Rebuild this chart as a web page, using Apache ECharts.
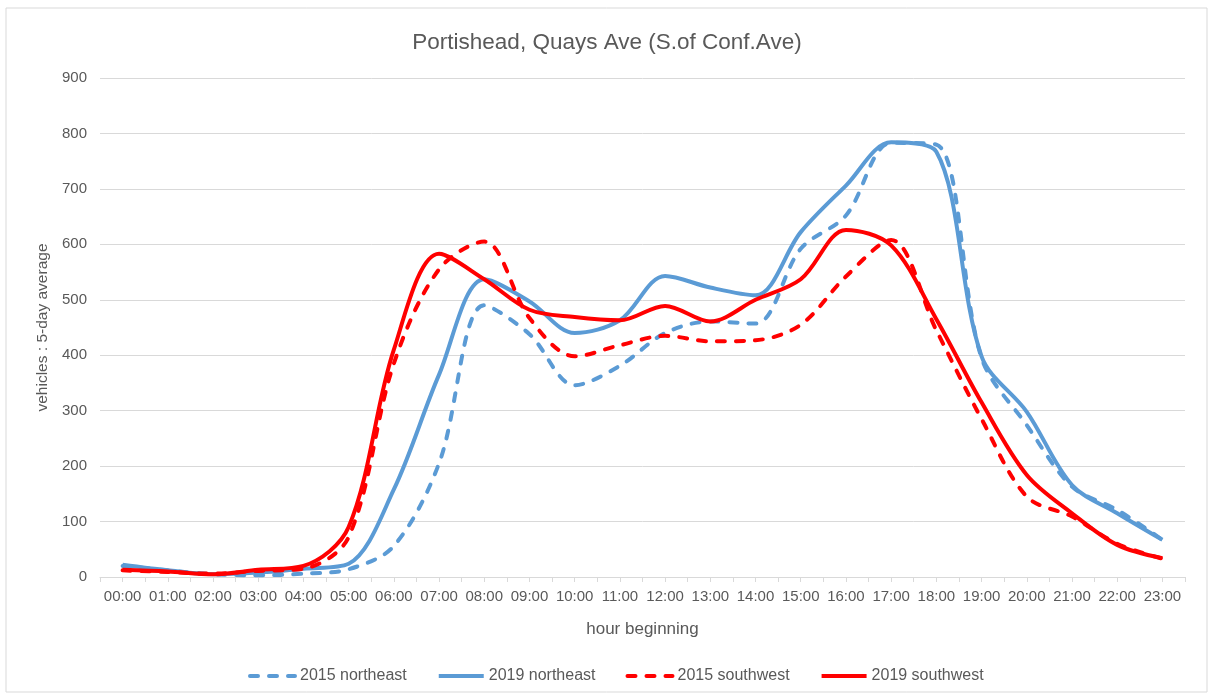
<!DOCTYPE html>
<html>
<head>
<meta charset="utf-8">
<title>Portishead, Quays Ave</title>
<script src="https://cdn.jsdelivr.net/npm/echarts@6/dist/echarts.min.js"></script>
<style>
  html, body { margin: 0; padding: 0; background: #fff; }
  #chart { width: 1214px; height: 698px; }
</style>
</head>
<body>
<div id="chart"></div>
<script>
// hourly categories
var hours = ['00:00', '01:00', '02:00', '03:00', '04:00', '05:00', '06:00', '07:00',
  '08:00', '09:00', '10:00', '11:00', '12:00', '13:00', '14:00', '15:00',
  '16:00', '17:00', '18:00', '19:00', '20:00', '21:00', '22:00', '23:00']

// 5-day average vehicle counts
var ne2015 = [20, 12, 5, 3, 6, 14, 56, 205, 490, 438, 346, 381,
  440, 461, 457, 592, 652, 783, 780, 395, 274, 163, 121, 67]
var ne2019 = [22, 12, 5, 8, 15, 24, 158, 365, 537, 497, 440, 463,
  543, 522, 508, 622, 706, 784, 767, 398, 298, 166, 115, 67]
var sw2015 = [12, 9, 6, 11, 15, 72, 385, 555, 605, 467, 398, 418,
  435, 425, 427, 455, 542, 608, 445, 285, 145, 109, 60, 33]
var sw2019 = [13, 10, 5, 13, 20, 90, 410, 583, 537, 482, 469, 463,
  489, 461, 500, 537, 626, 598, 465, 315, 184, 115, 58, 34]

var BLUE = '#5B9BD5'
var RED = '#FF0000'
var TEXT = '#595959'
var GRID = '#D9D9D9'
var FONT = '"Liberation Sans", Arial, sans-serif'

function makeLine(name, data, color, dashed) {
  return {
    name: name,
    type: 'line',
    data: data,
    smooth: 0.33,
    symbol: 'none',
    xAxisIndex: 0,
    lineStyle: {
      color: color,
      width: 4,
      type: dashed ? [8, 11] : 'solid',
      cap: dashed ? 'round' : 'butt'
    },
    itemStyle: { color: color }
  }
}

var chart = echarts.init(document.getElementById('chart'))

chart.setOption({
  animation: false,
  textStyle: { fontFamily: FONT },
  graphic: [{
    type: 'rect',
    shape: { x: 6, y: 8, width: 1201, height: 684 },
    style: { fill: 'none', stroke: GRID, lineWidth: 1 },
    silent: true,
    z: -1
  }],
  title: {
    text: 'Portishead, Quays Ave (S.of Conf.Ave)',
    left: 'center',
    top: 31,
    padding: 0,
    textStyle: { color: TEXT, fontSize: 22.5, fontWeight: 'normal', fontFamily: FONT }
  },
  legend: {
    left: 248,
    top: 668,
    padding: 0,
    itemWidth: 45,
    itemHeight: 12,
    itemGap: 30,
    itemStyle: { opacity: 0, borderWidth: 0 },
    lineStyle: { width: 4 },
    textStyle: { color: TEXT, fontSize: 16, fontFamily: FONT },
    data: ['2015 northeast', '2019 northeast', '2015 southwest', '2019 southwest']
  },
  grid: { left: 100, right: 29, top: 78, bottom: 121 },
  xAxis: [
    {
      type: 'category',
      data: hours,
      boundaryGap: true,
      name: 'hour beginning',
      nameLocation: 'middle',
      nameGap: 44,
      nameTextStyle: { color: TEXT, fontSize: 17, fontFamily: FONT },
      axisLine: { lineStyle: { color: GRID, width: 1 } },
      axisTick: { show: true, interval: 0, length: 5, lineStyle: { color: GRID } },
      axisLabel: { color: TEXT, fontSize: 15, margin: 12, interval: 0, fontFamily: FONT }
    },
    {
      // second copy of the axis only for the ticks under each hour
      type: 'category',
      data: hours,
      position: 'bottom',
      boundaryGap: true,
      axisLine: { show: false },
      axisTick: { show: true, alignWithLabel: true, interval: 0, length: 5, lineStyle: { color: GRID } },
      axisLabel: { show: false },
      splitLine: { show: false }
    }
  ],
  yAxis: {
    type: 'value',
    min: 0,
    max: 900,
    interval: 100,
    name: 'vehicles : 5-day average',
    nameLocation: 'middle',
    nameGap: 48,
    nameTextStyle: { color: TEXT, fontSize: 15.5, fontFamily: FONT },
    axisLine: { show: false },
    axisTick: { show: false },
    axisLabel: { color: TEXT, fontSize: 15, margin: 13, fontFamily: FONT },
    splitLine: { lineStyle: { color: GRID, width: 1 } }
  },
  series: [
    makeLine('2015 northeast', ne2015, BLUE, true),
    makeLine('2019 northeast', ne2019, BLUE, false),
    makeLine('2015 southwest', sw2015, RED, true),
    makeLine('2019 southwest', sw2019, RED, false)
  ]
})
</script>
</body>
</html>
